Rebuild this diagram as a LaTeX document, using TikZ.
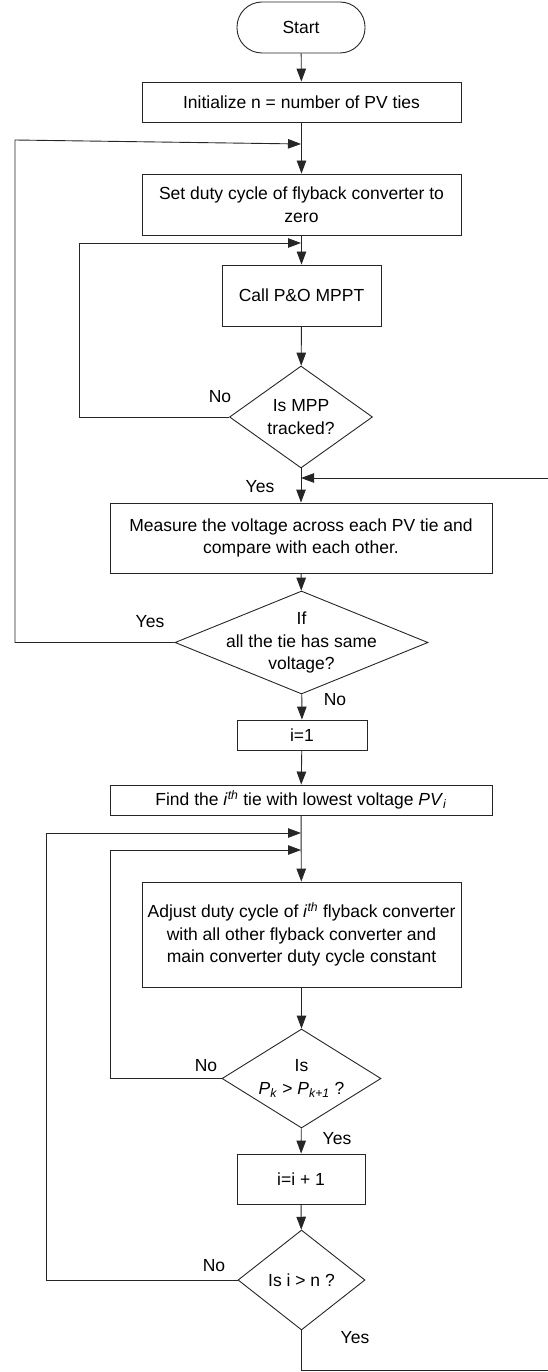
\documentclass[tikz,border=0pt]{standalone}
\usepackage{fontspec}
\setmainfont{Liberation Sans}
\usetikzlibrary{arrows.meta,shapes.geometric}
\begin{document}
\begin{tikzpicture}[x=1pt,y=-1pt,
  every node/.style={font=\fontsize{17.5}{22.5}\selectfont, text=black},
  ln/.style={draw=black!85, line width=0.9pt},
  arr/.style={ln, -{Triangle[length=13pt,width=9.5pt]}},
  procbox/.style={ln, rectangle, inner sep=0pt, align=center},
  decision/.style={ln, diamond, inner sep=0pt},
  dtext/.style={align=center, inner sep=0pt},
  lbl/.style={inner sep=0pt}]
\useasboundingbox (0,0) rectangle (547,1372);
% nodes
\node[procbox, rounded corners=25pt, minimum width=128pt, minimum height=51pt] (start) at (301,27.5) {Start};
\node[procbox, minimum width=319pt, minimum height=40pt] (init) at (301.5,102) {Initialize n = number of PV ties};
\node[procbox, minimum width=319pt, minimum height=61pt] (set) at (301.5,204.5) {Set duty cycle of flyback converter to\\zero};
\node[procbox, minimum width=159pt, minimum height=61pt] (call) at (301.5,295.5) {Call P\&O MPPT};
\node[decision, minimum width=143pt, minimum height=102pt,
  label={[dtext]center:Is MPP\\tracked?}] (d1) at (301,417) {};
\node[procbox, minimum width=382pt, minimum height=70pt] (meas) at (301,538) {Measure the voltage across each PV tie and\\compare with each other.};
\node[decision, minimum width=253pt, minimum height=103pt,
  label={[dtext]center:If\\all the tie has same\\voltage?}] (d2) at (301.5,642.5) {};
\node[procbox, minimum width=130pt, minimum height=30pt] (i1) at (302,735) {i=1};
\node[procbox, minimum width=382pt, minimum height=30pt] (find) at (301,800) {Find the \textit{i}\textsuperscript{\textit{th}} tie with lowest voltage \textit{PV}\textsubscript{\textit{i}}};
\node[procbox, minimum width=319pt, minimum height=105pt] (adj) at (301.5,934.5) {Adjust duty cycle of \textit{i}\textsuperscript{\textit{th}} flyback converter\\with all other flyback converter and\\main converter duty cycle constant};
\node[decision, minimum width=159pt, minimum height=99pt,
  label={[dtext]center:Is\\\textit{P}\textsubscript{\textit{k}} > \textit{P}\textsubscript{\textit{k+1}} ?}] (d3) at (301.5,1078.5) {};
\node[procbox, minimum width=128pt, minimum height=50pt] (inc) at (301,1179) {i=i + 1};
\node[decision, minimum width=127pt, minimum height=100pt,
  label={[dtext]center:Is i > n ?}] (d4) at (301.5,1280) {};
% join points
\coordinate (j1) at (301,144);
\coordinate (j1l) at (15,140);
\coordinate (j2) at (301,243);
\coordinate (j3) at (301,478);
\coordinate (j4) at (301,833);
\coordinate (j5) at (301,850);
% connectors
\draw[arr] (start) -- (init);
\draw[arr] (init) -- (set);
\draw[arr] (set) -- (call);
\draw[arr] (call) -- (d1);
\draw[arr] (d1) -- (meas);
\draw[arr] (meas) -- (d2);
\draw[arr] (d2) -- (i1);
\draw[arr] (i1) -- (find);
\draw[arr] (find) -- (adj);
\draw[arr] (adj) -- (d3);
\draw[arr] (d3) -- (inc);
\draw[arr] (inc) -- (d4);
% loops
\draw[arr] (d1.west) -- (79,417) -- (79,243) -- (j2);
\draw[arr] (d2.west) -- (15,642.5) -- (j1l) -- (j1);
\draw[arr] (d3.west) -- (110,1078.5) -- (110,850) -- (j5);
\draw[arr] (d4.west) -- (46,1280) -- (46,833) -- (j4);
\draw[arr] (d4.south) -- (301.5,1370) -- (549,1370) -- (549,478) -- (j3);
% labels
\node[lbl] at (220,397) {No};
\node[lbl] at (260,487) {Yes};
\node[lbl] at (150,622) {Yes};
\node[lbl] at (335,700) {No};
\node[lbl] at (206,1066) {No};
\node[lbl] at (337,1139) {Yes};
\node[lbl] at (214,1266) {No};
\node[lbl] at (355,1338) {Yes};
\end{tikzpicture}
\end{document}
